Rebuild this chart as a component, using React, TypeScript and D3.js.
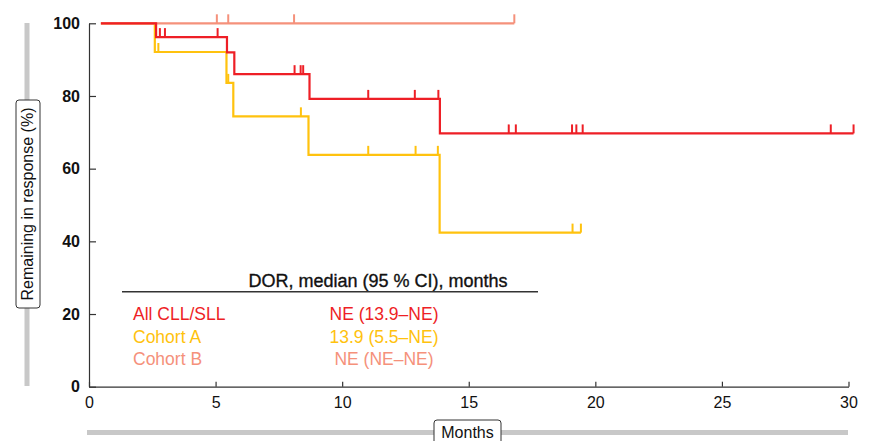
import React, { useEffect, useRef } from "react";
import * as d3 from "d3";

const W = 869, H = 441;

const xTicks = [0, 5, 10, 15, 20, 25, 30];
const yTicks = [0, 20, 40, 60, 80, 100];

// All CLL/SLL
const allTimes = [0.47, 2.65, 5.45, 5.74, 8.71, 13.86];
const allSurv = [100, 96.2, 92.0, 86.0, 79.2, 69.7];
const allEnd = 30.2;
const allCensor = [2.8, 3.0, 5.08, 8.12, 8.36, 8.46, 11.03, 12.87, 13.8, 16.58, 16.86, 19.08, 19.25, 19.5, 29.3, 30.2];

// Cohort A
const aTimes = [0.47, 2.6, 5.43, 5.7, 8.67, 13.85];
const aSurv = [100, 92.1, 83.6, 74.4, 63.8, 42.4];
const aEnd = 19.43;
const aCensor = [2.74, 5.5, 8.37, 11.03, 12.9, 13.78, 19.1, 19.43];

// Cohort B
const bTimes = [0.47];
const bSurv = [100];
const bEnd = 16.8;
const bCensor = [5.05, 5.5, 8.1, 16.8];

const legendNames = ["All CLL/SLL", "Cohort A", "Cohort B"];
const legendValues = ["NE (13.9–NE)", "13.9 (5.5–NE)", "NE (NE–NE)"];
const colors = ["#ee1f26", "#ffc20e", "#f5917b"];

const font = "'Liberation Sans', Arial, Helvetica, sans-serif";

export default function App() {
  const ref = useRef<SVGSVGElement>(null);

  useEffect(() => {
    const svg = d3.select(ref.current);
    svg.selectAll("*").remove();

    const x = d3.scaleLinear().domain([0, 30]).range([89, 848.5]);
    const y = d3.scaleLinear().domain([0, 100]).range([386.7, 23.3]);

    // grey guide bars + boxed axis titles
    svg.append("rect").attr("x", 24.5).attr("y", 23).attr("width", 5).attr("height", 363).attr("fill", "#c8c8c8");
    svg.append("rect").attr("x", 87).attr("y", 430).attr("width", 761).attr("height", 5).attr("fill", "#c8c8c8");

    svg.append("rect").attr("x", 16).attr("y", 100).attr("width", 24).attr("height", 208).attr("rx", 3)
      .attr("fill", "white").attr("stroke", "#333").attr("stroke-width", 1);
    svg.append("text").attr("transform", "translate(33,204) rotate(-90)")
      .attr("text-anchor", "middle").style("font-family", font).style("font-size", "16px").attr("fill", "#111")
      .text("Remaining in response (%)");

    svg.append("rect").attr("x", 434).attr("y", 420).attr("width", 67).attr("height", 30).attr("rx", 3)
      .attr("fill", "white").attr("stroke", "#333").attr("stroke-width", 1);
    svg.append("text").attr("x", 467.5).attr("y", 438).attr("text-anchor", "middle")
      .style("font-family", font).style("font-size", "16px").attr("fill", "#111").text("Months");

    // axes
    const yAxis = d3.axisLeft(y).tickValues(yTicks).tickSizeInner(-7).tickSizeOuter(0).tickPadding(9);
    const gy = svg.append("g").attr("transform", "translate(89,0)").call(yAxis);
    gy.selectAll("text").style("font-family", font).style("font-size", "16px").style("font-weight", "bold").attr("fill", "#111");

    const xAxis = d3.axisBottom(x).tickValues(xTicks).tickSizeInner(-5).tickSizeOuter(0).tickPadding(10);
    const gx = svg.append("g").attr("transform", "translate(0,386.7)").call(xAxis);
    gx.selectAll("text").style("font-family", font).style("font-size", "16px").attr("fill", "#111");
    svg.selectAll(".domain, .tick line").attr("stroke", "#333").attr("stroke-width", 1.2);

    // KM curves
    const line = d3.line<[number, number]>().x(d => x(d[0])).y(d => y(d[1])).curve(d3.curveStepAfter);
    const series = [
      { t: aTimes, s: aSurv, end: aEnd, c: aCensor, col: colors[1] },
      { t: bTimes, s: bSurv, end: bEnd, c: bCensor, col: colors[2] },
      { t: allTimes, s: allSurv, end: allEnd, c: allCensor, col: colors[0] },
    ];
    series.forEach(sr => {
      const pts: [number, number][] = sr.t.map((t, i) => [t, sr.s[i]]);
      pts.push([sr.end, sr.s[sr.s.length - 1]]);
      svg.append("path").attr("d", line(pts)).attr("fill", "none")
        .attr("stroke", sr.col).attr("stroke-width", 2.2);
      const level = (c: number) => {
        let v = sr.s[0];
        sr.t.forEach((t, i) => { if (t <= c) v = sr.s[i]; });
        return v;
      };
      svg.append("g").selectAll("line").data(sr.c).enter().append("line")
        .attr("x1", d => x(d)).attr("x2", d => x(d))
        .attr("y1", d => y(level(d))).attr("y2", d => y(level(d)) - 9)
        .attr("stroke", sr.col).attr("stroke-width", 2);
    });

    // legend table
    svg.append("text").attr("x", 378).attr("y", 287).attr("text-anchor", "middle")
      .style("font-family", font).style("font-size", "18px").attr("fill", "#111")
      .attr("stroke", "#111").attr("stroke-width", 0.35)
      .text("DOR, median (95 % CI), months");
    svg.append("line").attr("x1", 122).attr("x2", 538).attr("y1", 291.7).attr("y2", 291.7)
      .attr("stroke", "#333").attr("stroke-width", 1.5);
    const rows = svg.append("g").selectAll("g").data(legendNames).enter().append("g");
    rows.append("text").attr("x", 133).attr("y", (d, i) => 320 + i * 22.7)
      .style("font-family", font).style("font-size", "17.5px").attr("fill", (d, i) => colors[i]).text(d => d);
    rows.append("text").attr("x", 384).attr("y", (d, i) => 320 + i * 22.7).attr("text-anchor", "middle")
      .style("font-family", font).style("font-size", "17.5px").attr("fill", (d, i) => colors[i])
      .text((d, i) => legendValues[i]);
  }, []);

  return (
    <svg ref={ref} width={W} height={H}
      style={{ position: "absolute", left: 0, top: 0, background: "white" }} />
  );
}
